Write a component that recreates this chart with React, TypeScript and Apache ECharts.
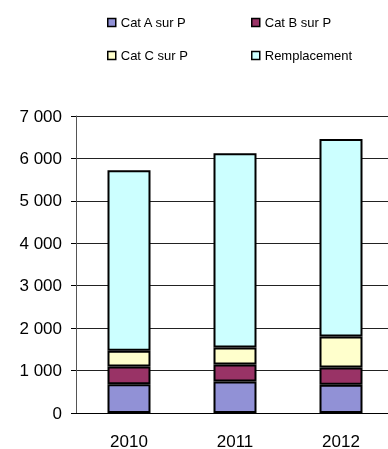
import React, { useEffect, useRef } from "react";
import * as echarts from "echarts";

const categories = ["2010", "2011", "2012"];
const catA = [680, 745, 665];
const catB = [415, 400, 410];
const catC = [375, 400, 730];
const remplacement = [4250, 4575, 4655];
const seriesNames = ["Cat A sur P", "Cat B sur P", "Cat C sur P", "Remplacement"];
const seriesColors = ["#9191D6", "#993366", "#FFFFCC", "#CCFFFF"];
const yTicks = { min: 0, max: 7000, interval: 1000 };

const FONT = "'Liberation Sans', Arial, sans-serif";

export default function App() {
  const ref = useRef<HTMLDivElement>(null);
  useEffect(() => {
    if (!ref.current) return;
    const chart = echarts.init(ref.current, undefined, { renderer: "svg" });
    const values = [catA, catB, catC, remplacement];
    const legendCommon = {
      orient: "vertical" as const,
      top: 11,
      itemWidth: 8,
      itemHeight: 8,
      itemGap: 20,
      icon: "rect",
      selectedMode: false,
      itemStyle: { borderColor: "#000", borderWidth: 1.5 },
      textStyle: { fontFamily: FONT, fontSize: 13, color: "#000", lineHeight: 13 },
    };
    chart.setOption({
      animation: false,
      textStyle: { fontFamily: FONT },
      legend: [
        { ...legendCommon, left: 102, data: [seriesNames[0], seriesNames[2]] },
        { ...legendCommon, left: 246, data: [seriesNames[1], seriesNames[3]] },
      ],
      grid: {
        left: 76,
        top: 116,
        bottom: 36,
        width: 318,
        containLabel: false,
        outerBoundsMode: "none",
      },
      xAxis: {
        type: "category",
        data: categories,
        axisLine: { lineStyle: { color: "#000", width: 1 } },
        axisTick: { show: false },
        axisLabel: {
          fontFamily: FONT,
          fontSize: 17,
          lineHeight: 14,
          color: "#000",
          margin: 21,
        },
      },
      yAxis: {
        type: "value",
        min: yTicks.min,
        max: yTicks.max,
        interval: yTicks.interval,
        axisLine: { show: true, lineStyle: { color: "#555", width: 1 } },
        axisTick: { show: true, length: 5, lineStyle: { color: "#000" } },
        splitLine: { lineStyle: { color: "#222", width: 1 } },
        axisLabel: {
          fontFamily: FONT,
          fontSize: 17,
          color: "#000",
          margin: 14,
          formatter: (v: number) => String(v).replace(/\B(?=(\d{3})+(?!\d))/g, " "),
        },
      },
      series: seriesNames.map((name, i) => ({
        name,
        type: "bar",
        stack: "total",
        barWidth: 43,
        data: values[i],
        itemStyle: { color: seriesColors[i], borderColor: "#000", borderWidth: 2 },
      })),
    });
    return () => chart.dispose();
  }, []);
  return (
    <div
      ref={ref}
      style={{ position: "fixed", left: 0, top: 0, width: 388, height: 449 }}
    />
  );
}
